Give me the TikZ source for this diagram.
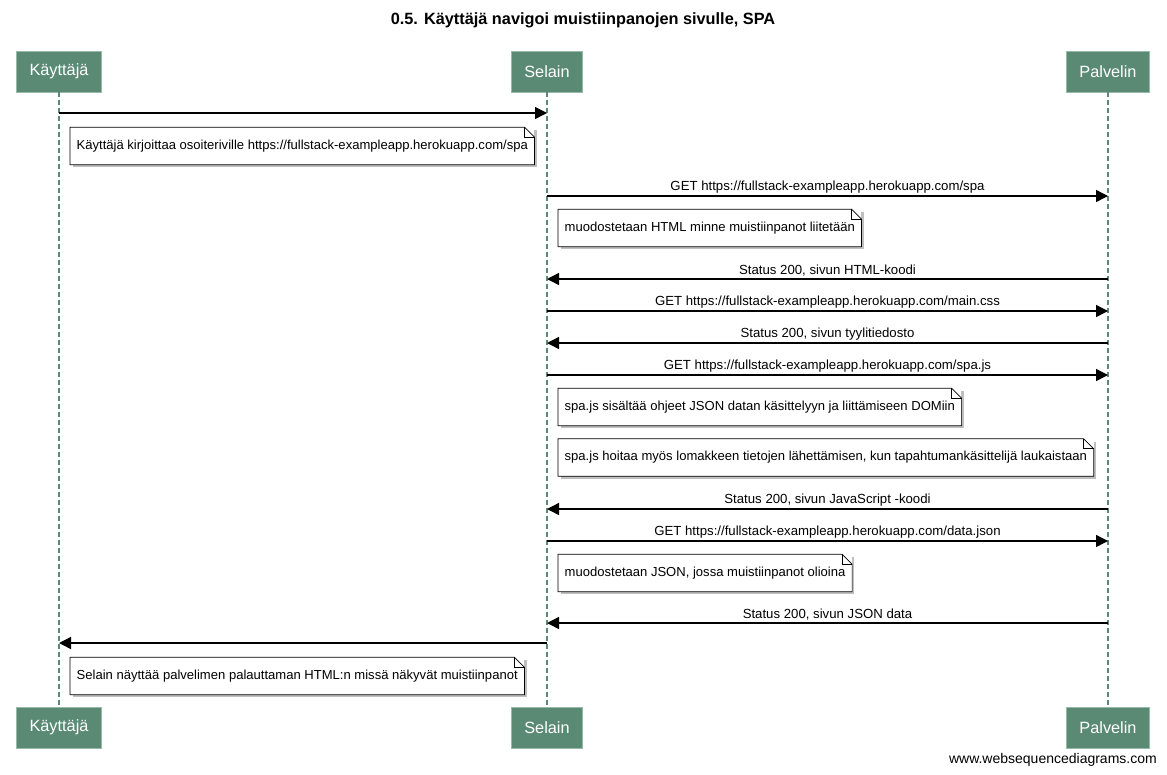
\documentclass[tikz,border=0pt]{standalone}
\usepackage{fontspec}
\setmainfont{Liberation Sans}
\usetikzlibrary{arrows.meta,shadows}

\definecolor{actorgreen}{RGB}{90,138,116}
\definecolor{actorrim}{RGB}{150,185,168}

\tikzset{
	actor/.style={rectangle, fill=actorgreen, draw=actorrim, line width=0.8pt, text=white, font=\fontsize{16.3}{18}\selectfont, minimum height=41pt, inner xsep=13pt},
	lifeline/.style={draw=actorgreen, line width=2.4pt, dash pattern=on 5pt off 3pt},
	msg/.style={line width=1.4pt, -{Triangle[length=12pt,width=12pt]}},
	msgtext/.style={font=\fontsize{13.2}{15}\selectfont, inner sep=0pt, above=2pt},
	notebox/.style={rectangle, fill=white, anchor=west, inner xsep=6.5pt, minimum height=37pt, font=\fontsize{13.05}{15}\selectfont, drop shadow={shadow xshift=2.5pt, shadow yshift=-2.5pt, fill=black!50}}
}

\newcommand{\notefold}[1]{
	\draw[line width=0.7pt] (#1.south west) -- (#1.north west) -- ([xshift=-10pt]#1.north east) -- ([yshift=-10pt]#1.north east) -- (#1.south east) -- cycle;
	\draw[line width=0.7pt] ([xshift=-10pt]#1.north east) |- ([yshift=-10pt]#1.north east);
}

\begin{document}
\begin{tikzpicture}[x=1pt,y=-1pt]
	\useasboundingbox (0,0) rectangle (1167,774);

	\node[font=\bfseries\fontsize{16.3}{18}\selectfont] (title) at (583,20) {0.5. Käyttäjä navigoi muistiinpanojen sivulle, SPA};

	% osapuolet
	\node[actor] (kt) at (59,71.5) {Käyttäjä};
	\node[actor] (sel) at (547,71.5) {Selain};
	\node[actor] (pal) at (1108,71.5) {Palvelin};
	\node[actor] (kt2) at (59,727.5) {Käyttäjä};
	\node[actor] (sel2) at (547,727.5) {Selain};
	\node[actor] (pal2) at (1108,727.5) {Palvelin};

	\draw[lifeline] (kt) -- (kt2);
	\draw[lifeline] (sel) -- (sel2);
	\draw[lifeline] (pal) -- (pal2);

	% viestien päät
	\coordinate (k1) at (59,113); \coordinate (s1) at (547,113);
	\coordinate (s2) at (547,196); \coordinate (p2) at (1108,196);
	\coordinate (s3) at (547,279); \coordinate (p3) at (1108,279);
	\coordinate (s4) at (547,311); \coordinate (p4) at (1108,311);
	\coordinate (s5) at (547,343); \coordinate (p5) at (1108,343);
	\coordinate (s6) at (547,375); \coordinate (p6) at (1108,375);
	\coordinate (s7) at (547,509); \coordinate (p7) at (1108,509);
	\coordinate (s8) at (547,541); \coordinate (p8) at (1108,541);
	\coordinate (s9) at (547,623); \coordinate (p9) at (1108,623);
	\coordinate (s10) at (547,643); \coordinate (k10) at (59,643);

	\draw[msg] (k1) -- (s1);
	\node[notebox] (n1) at (70,146) {Käyttäjä kirjoittaa osoiteriville https://fullstack-exampleapp.herokuapp.com/spa};
	\notefold{n1}

	\draw[msg] (s2) -- node[msgtext] (m2) {GET https://fullstack-exampleapp.herokuapp.com/spa} (p2);
	\node[notebox] (n2) at (558,228) {muodostetaan HTML minne muistiinpanot liitetään};
	\notefold{n2}

	\draw[msg] (p3) -- node[msgtext] (m3) {Status 200, sivun HTML-koodi} (s3);
	\draw[msg] (s4) -- node[msgtext] (m4) {GET https://fullstack-exampleapp.herokuapp.com/main.css} (p4);
	\draw[msg] (p5) -- node[msgtext] (m5) {Status 200, sivun tyylitiedosto} (s5);
	\draw[msg] (s6) -- node[msgtext] (m6) {GET https://fullstack-exampleapp.herokuapp.com/spa.js} (p6);

	\node[notebox] (n3) at (558,407) {spa.js sisältää ohjeet JSON datan käsittelyyn ja liittämiseen DOMiin};
	\notefold{n3}
	\node[notebox] (n4) at (558,457.5) {spa.js hoitaa myös lomakkeen tietojen lähettämisen, kun tapahtumankäsittelijä laukaistaan};
	\notefold{n4}

	\draw[msg] (p7) -- node[msgtext] (m7) {Status 200, sivun JavaScript -koodi} (s7);
	\draw[msg] (s8) -- node[msgtext] (m8) {GET https://fullstack-exampleapp.herokuapp.com/data.json} (p8);
	\node[notebox] (n5) at (558,573) {muodostetaan JSON, jossa muistiinpanot olioina};
	\notefold{n5}
	\draw[msg] (p9) -- node[msgtext] (m9) {Status 200, sivun JSON data} (s9);

	\draw[msg] (s10) -- (k10);
	\node[notebox] (n6) at (70,676) {Selain näyttää palvelimen palauttaman HTML:n missä näkyvät muistiinpanot};
	\notefold{n6}

	\node[font=\fontsize{14}{16}\selectfont, anchor=east, inner sep=0pt] (wsd) at (1157,760) {www.websequencediagrams.com};
\end{tikzpicture}
\end{document}
